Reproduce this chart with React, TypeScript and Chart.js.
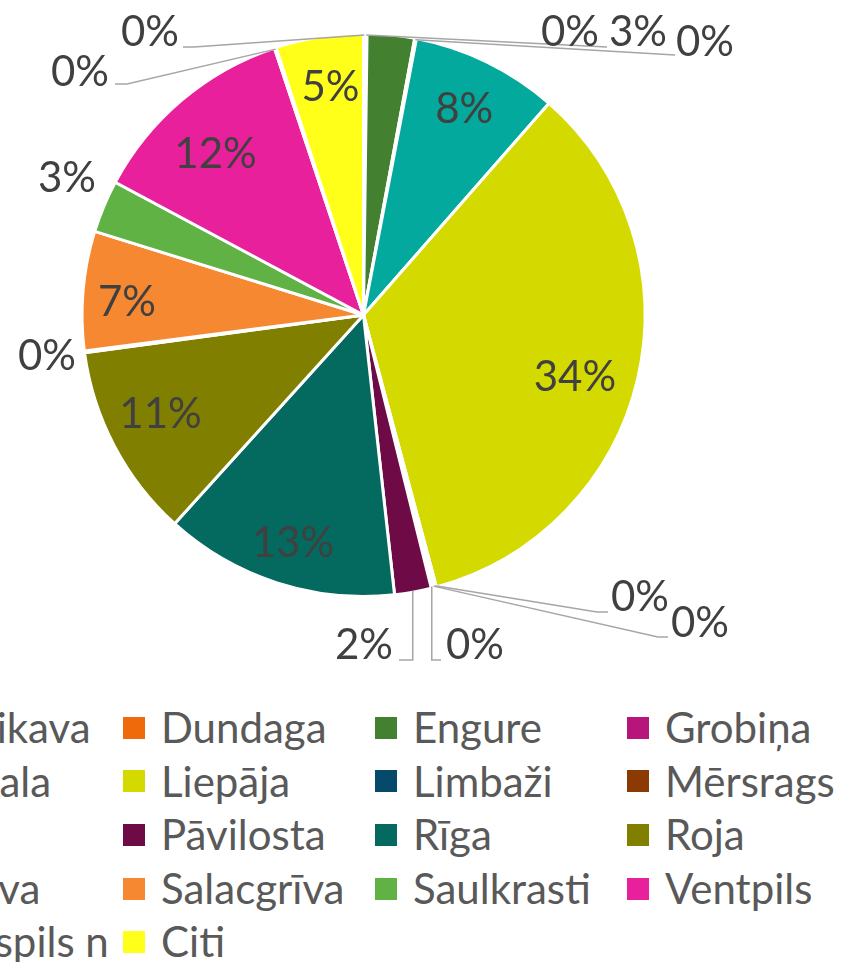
import React, { useEffect, useRef } from 'react';
import { Chart, registerables } from 'chart.js';

Chart.register(...registerables);

const LABELS = ['Carnikava', 'Dundaga', 'Engure', 'Grobiņa', 'Jūrmala', 'Liepāja', 'Limbaži', 'Mērsrags', 'Nīca', 'Pāvilosta', 'Rīga', 'Roja', 'Rucava', 'Salacgrīva', 'Saulkrasti', 'Ventpils', 'Ventspils n', 'Citi'];
const VALUES = [0.1, 0.1, 2.7, 0.1, 8.4, 34.2, 0.1, 0.1, 0.1, 2.1, 13.4, 11.1, 0.1, 6.8, 3.0, 12.0, 0.1, 5.0];
const COLORS = ['#4BACC6', '#EE6A0A', '#43802F', '#B8157A', '#03A99C', '#D4DA00', '#054A6B', '#8B3A04', '#7F6084', '#6E0A46', '#04695F', '#807F00', '#9BBB59', '#F78832', '#60B245', '#E9209B', '#C0504D', '#FFFF19'];

// Label placement (Excel-style manual positions), offsets from pie centre in px.
// `nudge` -> label inside the slice, shifted a little.
type Place = { at?: [number, number]; pts?: [number, number][]; down?: 'left' | 'right'; nudge?: [number, number] };
const PLACES: Place[] = [
  { at: [-213.5, -283], pts: [[44, 15], [33, 15]] },
  { at: [206.5, -283], pts: [[37, 15]] },
  { at: [274.5, -283] },
  { at: [341.5, -273], pts: [[-30, 13]] },
  { nudge: [0, 1] },
  { nudge: [-12, 10] },
  { at: [276.5, 282], pts: [[-43, 15], [-32, 15]] },
  { at: [336.5, 308], pts: [[-42, 14], [-32, 14]] },
  { at: [111.5, 330], down: 'left' },
  { at: [0.5, 330], down: 'right' },
  { nudge: [0, 10] },
  { nudge: [0, -7] },
  { at: [-316.5, 41] },
  { nudge: [-8, 7] },
  { at: [-296.5, -137] },
  { nudge: [0, 15] },
  { at: [-283.5, -243], pts: [[47, 12], [35, 12]] },
  { nudge: [3, -1] },
];

const FONT = 'Lato, "Open Sans", sans-serif';

const labelPlugin = {
  id: 'pctLabels',
  afterDatasetsDraw(chart: any) {
    const ctx = chart.ctx as CanvasRenderingContext2D;
    const meta = chart.getDatasetMeta(0);
    const data = chart.data.datasets[0].data as number[];
    const total = data.reduce((a, b) => a + b, 0);
    ctx.save();
    ctx.font = `42px ${FONT}`;
    ctx.textAlign = 'center';
    ctx.textBaseline = 'middle';
    meta.data.forEach((arc: any, i: number) => {
      const p = arc.getProps(['x', 'y', 'startAngle', 'endAngle', 'outerRadius'], true);
      const mid = (p.startAngle + p.endAngle) / 2;
      const R = p.outerRadius;
      const text = Math.round((data[i] / total) * 100) + '%';
      const place = PLACES[i];
      if (!place.at) {
        const r = R * 0.815;
        const n = place.nudge || [0, 0];
        ctx.fillStyle = '#404040';
        ctx.fillText(text, p.x + Math.cos(mid) * r + n[0], p.y + Math.sin(mid) * r + n[1]);
        return;
      }
      const lx = p.x + place.at[0];
      const ly = p.y + place.at[1];
      const ax = p.x + Math.cos(mid) * (R - 1.5);
      const ay = p.y + Math.sin(mid) * (R - 1.5);
      ctx.strokeStyle = '#A6A6A6';
      ctx.lineWidth = 1.5;
      if (place.pts) {
        ctx.beginPath();
        ctx.moveTo(ax, ay);
        place.pts.forEach(([dx, dy]) => ctx.lineTo(lx + dx, ly + dy));
        ctx.stroke();
      } else if (place.down) {
        const w = ctx.measureText(text).width;
        const by = ly + 15;
        const ex = place.down === 'left' ? lx - w / 2 - 5 : lx + w / 2 + 6;
        ctx.beginPath();
        ctx.moveTo(ax, ay);
        ctx.lineTo(ax, by);
        ctx.lineTo(ex, by);
        ctx.stroke();
      }
      ctx.fillStyle = '#404040';
      ctx.fillText(text, lx, ly);
    });
    ctx.restore();
  },
};

export default function App() {
  const ref = useRef<HTMLCanvasElement>(null);
  useEffect(() => {
    if (!ref.current) return;
    const chart = new Chart(ref.current, {
      type: 'pie',
      data: {
        labels: LABELS,
        datasets: [
          {
            data: VALUES,
            backgroundColor: COLORS,
            borderColor: '#FFFFFF',
            borderWidth: 3,
          },
        ],
      },
      options: {
        responsive: false,
        animation: false,
        layout: { padding: { left: 80.5, top: 32, right: 203.5, bottom: 102 } },
        plugins: { legend: { display: false }, tooltip: { enabled: false } },
      },
      plugins: [labelPlugin],
    });
    if ((document as any).fonts) {
      (document as any).fonts.ready.then(() => chart.update());
    }
    return () => chart.destroy();
  }, []);

  return (
    <div style={{ position: 'absolute', left: 0, top: 0, width: 850, height: 962, overflow: 'hidden', background: '#fff' }}>
      <canvas ref={ref} width={850} height={700} style={{ position: 'absolute', left: 0, top: 0 }} />
      <div
        style={{
          position: 'absolute',
          left: -129,
          top: 701,
          display: 'grid',
          gridTemplateColumns: 'repeat(4, 252px)',
          gridAutoRows: '53.6px',
          fontFamily: FONT,
          fontSize: 42,
          color: '#595959',
        }}
      >
        {LABELS.map((l, i) => (
          <div key={l} style={{ display: 'flex', alignItems: 'center', whiteSpace: 'nowrap' }}>
            <span style={{ width: 22, height: 22, background: COLORS[i], marginRight: 16, flex: 'none' }} />
            <span style={{ lineHeight: '53.6px' }}>{l}</span>
          </div>
        ))}
      </div>
    </div>
  );
}
